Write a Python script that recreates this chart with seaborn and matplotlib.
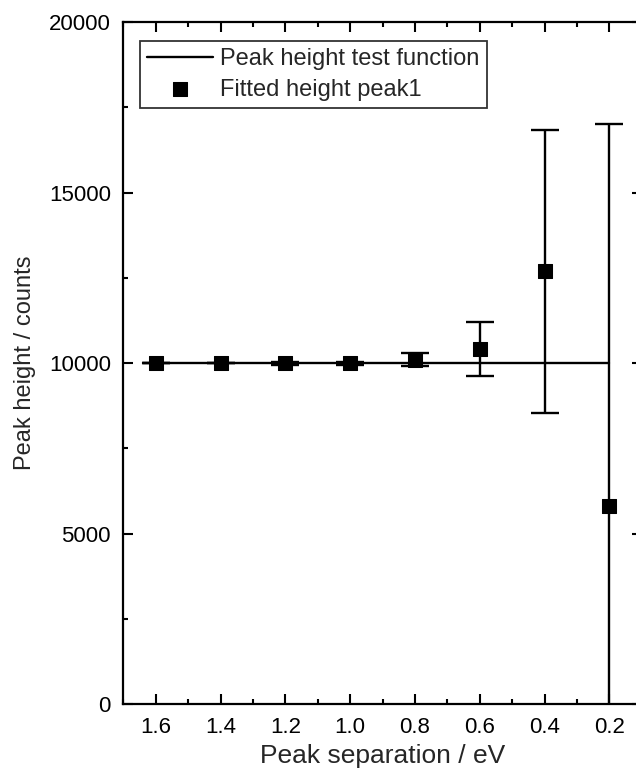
import matplotlib
matplotlib.use("Agg")
import matplotlib.pyplot as plt
import pandas as pd
import seaborn as sns
from matplotlib.ticker import MultipleLocator

# peak separation (eV) and fitted height of peak 1
separation = [1.6, 1.4, 1.2, 1.0, 0.8, 0.6, 0.4, 0.2]
fitted_height = [10000, 10000, 9990, 9990, 10100, 10420, 12700, 5800]
fitted_err = [0, 0, 40, 50, 190, 790, 4150, 11200]

# test function (constant peak height)
test_x = [1.64, 0.2]
test_y = [10000, 10000]

xtick_vals = [1.6, 1.4, 1.2, 1.0, 0.8, 0.6, 0.4, 0.2]
xtick_labels = ["1.6", "1.4", "1.2", "1.0", "0.8", "0.6", "0.4", "0.2"]

df = pd.DataFrame({"sep": separation, "height": fitted_height, "err": fitted_err})
df_line = pd.DataFrame({"sep": test_x, "height": test_y})

sns.set_theme(style="ticks")
plt.rcParams["font.family"] = ["Liberation Sans", "DejaVu Sans"]

fig = plt.figure(figsize=(6.36, 7.74), dpi=100)
ax = fig.add_axes([0.194, 0.0904, 0.815, 0.881])

sns.lineplot(data=df_line, x="sep", y="height", ax=ax, color="black",
             linewidth=1.7, label="Peak height test function")
ax.errorbar(df["sep"], df["height"], yerr=df["err"], fmt="none",
            ecolor="black", elinewidth=1.7, capsize=10, capthick=1.7, zorder=3)
sns.scatterplot(data=df, x="sep", y="height", ax=ax, marker="s", s=90,
                color="black", edgecolor="black", zorder=4,
                label="Fitted height peak1")

ax.set_xlim(1.7, 0.1)
ax.set_ylim(0, 20000)
ax.set_xticks(xtick_vals)
ax.set_xticklabels(xtick_labels)
ax.xaxis.set_minor_locator(MultipleLocator(0.1))
ax.yaxis.set_major_locator(MultipleLocator(5000))
ax.yaxis.set_minor_locator(MultipleLocator(2500))

ax.tick_params(which="both", direction="in", top=True, right=True,
               labelsize=16, width=1.5, colors="black")
ax.tick_params(which="major", length=7, pad=9)
ax.tick_params(which="minor", length=3.5)
for s in ax.spines.values():
    s.set_linewidth(1.6)
    s.set_color("black")

ax.set_xlabel("Peak separation / eV", fontsize=19, labelpad=5)
ax.set_ylabel("Peak height / counts", fontsize=17)
ax.yaxis.set_label_coords(-0.168, 0.5)

leg = ax.legend(loc="upper left", fontsize=17, frameon=True, fancybox=False,
                edgecolor="black", handlelength=2.8, handletextpad=0.3,
                borderpad=0.3, labelspacing=0.35, borderaxespad=0,
                bbox_to_anchor=(0.032, 0.972))
leg.get_frame().set_linewidth(1.3)

fig.savefig("out.png", dpi=100)
